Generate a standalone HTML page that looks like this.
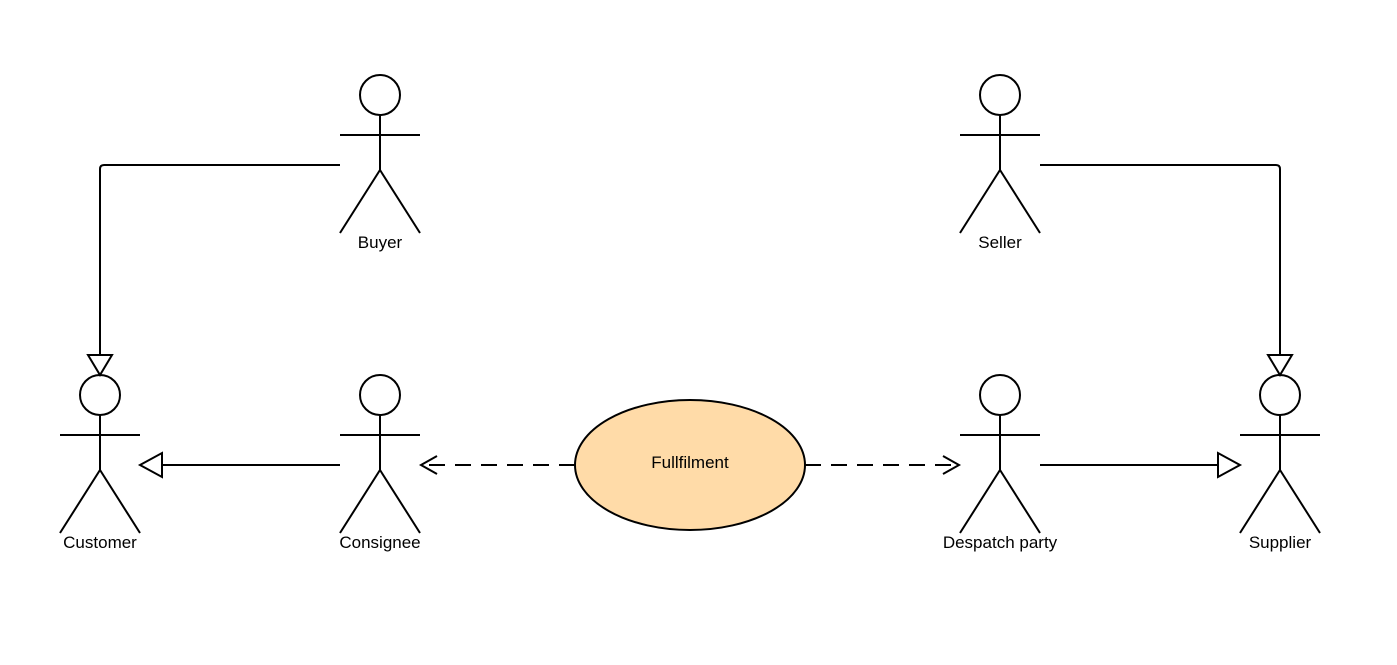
<!DOCTYPE html>
<html><head><style>body{margin:0;background:#fff}svg{display:block}text{font-family:"Liberation Sans",sans-serif;font-size:17px;fill:#000}</style></head><body>
<svg width="1397" height="665" viewBox="0 0 1397 665" xmlns="http://www.w3.org/2000/svg">
<defs><g id="a" fill="none" stroke="#000" stroke-width="2"><circle cx="0" cy="20" r="20"/><path d="M0 40V95M-40 60H40M-40 158L0 95L40 158"/></g></defs>
<use href="#a" x="380" y="75"/><use href="#a" x="1000" y="75"/>
<use href="#a" x="100" y="375"/><use href="#a" x="380" y="375"/>
<use href="#a" x="1000" y="375"/><use href="#a" x="1280" y="375"/>
<g text-anchor="middle"><text x="380" y="248">Buyer</text><text x="1000" y="248">Seller</text><text x="100" y="548">Customer</text><text x="380" y="548">Consignee</text><text x="1000" y="548">Despatch party</text><text x="1280" y="548">Supplier</text></g>
<g fill="none" stroke="#000" stroke-width="2">
<path d="M340 165H104Q100 165 100 169V355"/><path d="M88 355H112L100 375Z" fill="#fff"/>
<path d="M1040 165H1276Q1280 165 1280 169V355"/><path d="M1268 355H1292L1280 375Z" fill="#fff"/>
<path d="M340 465H162"/><path d="M162 453V477L140 465Z" fill="#fff"/>
<path d="M1040 465H1218"/><path d="M1218 453V477L1240 465Z" fill="#fff"/>
<path d="M575 465H420" stroke-dasharray="16 10"/><path d="M437 456L421 465L437 474"/>
<path d="M805 465H960" stroke-dasharray="16 10"/><path d="M943 456L959 465L943 474"/>
<ellipse cx="690" cy="465" rx="115" ry="65" fill="#ffdba8"/>
</g>
<text x="690" y="468" text-anchor="middle">Fullfilment</text>
</svg></body></html>
